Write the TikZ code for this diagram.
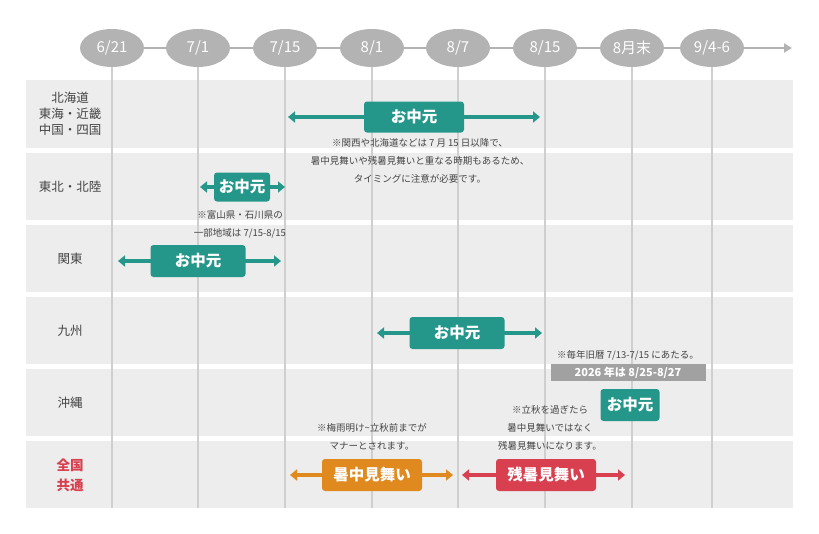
\documentclass[tikz,border=0pt]{standalone}
\usepackage{fontspec}
\setmainfont{Noto Sans CJK JP}
\usetikzlibrary{arrows.meta,shapes.geometric}
\definecolor{teal1}{HTML}{25978A}
\definecolor{org}{HTML}{E0891E}
\definecolor{red1}{HTML}{D9404F}
\definecolor{rowbg}{HTML}{EDEDED}
\definecolor{ell}{HTML}{B3B3B3}
\definecolor{vline}{HTML}{CFCFCF}
\definecolor{txt}{HTML}{444444}
\tikzset{
  datebub/.style={ellipse,fill=ell,minimum width=64pt,minimum height=38pt,text=white,font=\fontsize{15}{15}\selectfont,inner sep=0pt},
  rowlab/.style={text=txt,font=\fontsize{12.5}{16}\selectfont,align=center},
  bar/.style={rounded corners=3pt,text=white,font=\bfseries\fontsize{15.5}{15.5}\selectfont,inner sep=0pt},
  barr/.style={line width=3.5pt,{Triangle[length=7pt,width=11pt]}-{Triangle[length=7pt,width=11pt]}},
  note/.style={text=txt,font=\fontsize{9.5}{18}\selectfont,align=center}
}
\begin{document}
\begin{tikzpicture}[x=1pt,y=-1pt]
\useasboundingbox (0,0) rectangle (819,533);
% rows
\foreach \a/\b in {80/148,153/220,225/292,297/364,369/436,441/508}
  \fill[rowbg] (26,\a) rectangle (793,\b);
\draw[ell,line width=2pt,-{Triangle[length=8pt,width=9pt]}] (80,48) -- (792,48);
\foreach \x in {112,198,285,372,458,545,632,712}
  \draw[vline,line width=1.5pt] (\x,48) -- (\x,508);
\foreach \x/\t/\n in {112/6\slash 21/d1,198/7\slash 1/d2,285/7\slash 15/d3,372/8\slash 1/d4,458/8\slash 7/d5,545/8\slash 15/d6,632/8月末/d7,712/9\slash 4-6/d8}
  \node[datebub] (\n) at (\x,48) {\t};
% row labels
\node[rowlab] (r1) at (70,114) {北海道\\東海・近畿\\中国・四国};
\node[rowlab] (r2) at (70,187) {東北・北陸};
\node[rowlab] (r3) at (70,259) {関東};
\node[rowlab] (r4) at (70,331) {九州};
\node[rowlab] (r5) at (70,403) {沖縄};
\node[rowlab,text=red1,font=\bfseries\fontsize{13.5}{20}\selectfont] (r6) at (70,475) {全国\\共通};
% row1
\coordinate (a1) at (288,117); \coordinate (b1) at (540,117);
\draw[barr,teal1] (a1) -- (b1);
\node[bar,fill=teal1,minimum width=100pt,minimum height=31pt] (o1) at (414,117) {お中元};
\node[note] (n1) at (420,161) {※関西や北海道などは 7 月 15 日以降で、\\暑中見舞いや残暑見舞いと重なる時期もあるため、\\タイミングに注意が必要です。};
% row2
\coordinate (a2) at (200,187); \coordinate (b2) at (285,187);
\draw[barr,teal1] (a2) -- (b2);
\node[bar,fill=teal1,minimum width=56pt,minimum height=29pt] (o2) at (242,187) {お中元};
\node[note] (n2) at (240,224) {※富山県・石川県の\\一部地域は 7/15-8/15};
% row3
\coordinate (a3) at (118,261); \coordinate (b3) at (281,261);
\draw[barr,teal1] (a3) -- (b3);
\node[bar,fill=teal1,minimum width=95pt,minimum height=32pt] (o3) at (198,261) {お中元};
% row4
\coordinate (a4) at (377,333); \coordinate (b4) at (542,333);
\draw[barr,teal1] (a4) -- (b4);
\node[bar,fill=teal1,minimum width=95pt,minimum height=32pt] (o4) at (457,333) {お中元};
\node[note] (n4) at (628,355) {※毎年旧暦 7/13-7/15 にあたる。};
\node[fill=ell!90!black,text=white,font=\bfseries\fontsize{11}{11}\selectfont,minimum width=155pt,minimum height=17pt,inner sep=0pt] (g4) at (628,372.5) {2026 年は 8/25-8/27};
% row5
\node[bar,fill=teal1,minimum width=59pt,minimum height=32pt] (o5) at (630,405) {お中元};
\node[note] (n5) at (372,437) {※梅雨明け\textasciitilde 立秋前までが\\マナーとされます。};
\node[note] (n6) at (550,428) {※立秋を過ぎたら\\暑中見舞いではなく\\残暑見舞いになります。};
% row6
\coordinate (a6) at (290,475); \coordinate (b6) at (453,475);
\draw[barr,org] (a6) -- (b6);
\node[bar,fill=org,minimum width=100pt,minimum height=32pt] (s1) at (372,475) {暑中見舞い};
\coordinate (a7) at (462,475); \coordinate (b7) at (625,475);
\draw[barr,red1] (a7) -- (b7);
\node[bar,fill=red1,minimum width=100pt,minimum height=32pt] (s2) at (546,475) {残暑見舞い};
\end{tikzpicture}
\end{document}
